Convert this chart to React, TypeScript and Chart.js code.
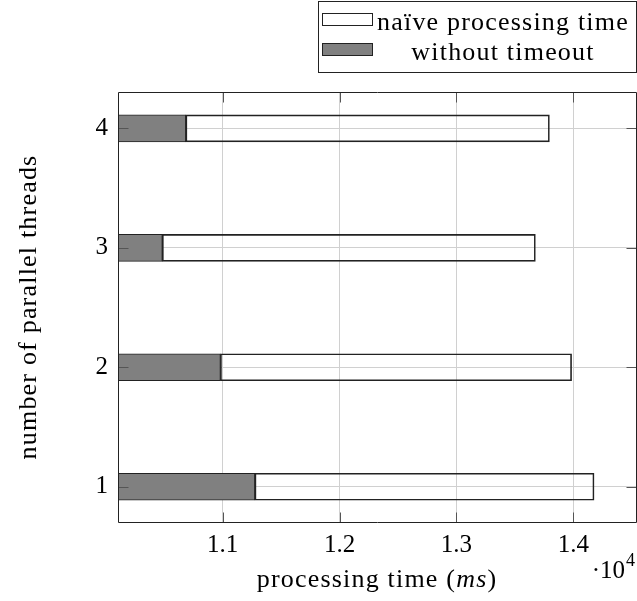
import React, { useEffect, useRef } from "react";
import { Chart, registerables } from "chart.js";

Chart.register(...registerables);

// ---- data ----
const threads = [1, 2, 3, 4];
const naiveTime = [14177, 13985, 13675, 13795];
const withoutTimeout = [11275, 10980, 10483, 10684];
const xTicks = [11000, 12000, 13000, 14000];
const xTickLabels = ["1.1", "1.2", "1.3", "1.4"];
const yTicks = [1, 2, 3, 4];
const seriesLabels = ["naïve processing time", "without timeout"];
const xAxisTitle = ["processing time (", "ms", ")"];
const yAxisTitle = "number of parallel threads";
const xMultiplier = ["·10", "4"];
const X_MIN = 10104;
const X_MAX = 14536;
const Y_MIN = 0.705;
const Y_MAX = 4.304;

const FONT = "'Liberation Serif', 'Times New Roman', serif";
const GRAY = "#808080";
const EDGE = "#222222";

const decorPlugin = {
  id: "decor",
  afterDraw(chart: any) {
    const ctx = chart.ctx as CanvasRenderingContext2D;
    const { left, right, top, bottom } = chart.chartArea;
    const xs = chart.scales.x;
    const ys = chart.scales.y;
    const L = Math.round(left) + 0.5;
    const R = Math.round(right) + 0.5;
    const T = Math.round(top) + 0.5;
    const B = Math.round(bottom) + 0.5;
    ctx.save();
    // inward ticks
    ctx.strokeStyle = "#555";
    ctx.lineWidth = 1;
    ctx.beginPath();
    xTicks.forEach((v) => {
      const px = Math.round(xs.getPixelForValue(v)) + 0.5;
      ctx.moveTo(px, B);
      ctx.lineTo(px, B - 10);
      ctx.moveTo(px, T);
      ctx.lineTo(px, T + 10);
    });
    yTicks.forEach((v) => {
      const py = Math.round(ys.getPixelForValue(v)) + 0.5;
      ctx.moveTo(L, py);
      ctx.lineTo(L + 10, py);
      ctx.moveTo(R, py);
      ctx.lineTo(R - 10, py);
    });
    ctx.stroke();
    // frame
    ctx.strokeStyle = EDGE;
    ctx.beginPath();
    ctx.rect(L, T, R - L, B - T);
    ctx.stroke();

    // axis titles
    ctx.fillStyle = "#000";
    (ctx as any).letterSpacing = "1.2px";
    ctx.textBaseline = "alphabetic";
    const normal = `26px ${FONT}`;
    const italic = `italic 26px ${FONT}`;
    ctx.font = normal;
    const w0 = ctx.measureText(xAxisTitle[0]).width;
    const w2 = ctx.measureText(xAxisTitle[2]).width;
    ctx.font = italic;
    const w1 = ctx.measureText(xAxisTitle[1]).width;
    const total = w0 + w1 + w2;
    let x = 377 - total / 2;
    const by = 587;
    ctx.textAlign = "left";
    ctx.font = normal;
    ctx.fillText(xAxisTitle[0], x, by);
    x += w0;
    ctx.font = italic;
    ctx.fillText(xAxisTitle[1], x, by);
    x += w1;
    ctx.font = normal;
    ctx.fillText(xAxisTitle[2], x, by);

    // y title
    ctx.save();
    (ctx as any).letterSpacing = "1.2px";
    ctx.translate(36, (top + bottom) / 2);
    ctx.rotate(-Math.PI / 2);
    ctx.textAlign = "center";
    ctx.font = normal;
    ctx.fillText(yAxisTitle, 0, 0);
    ctx.restore();

    // multiplier
    (ctx as any).letterSpacing = "0px";
    ctx.textAlign = "left";
    ctx.font = `25px ${FONT}`;
    const wm = ctx.measureText(xMultiplier[0]).width;
    ctx.font = `18px ${FONT}`;
    const ws = ctx.measureText(xMultiplier[1]).width;
    const mx = 635 - ws - 1 - wm;
    ctx.font = `25px ${FONT}`;
    ctx.fillText(xMultiplier[0], mx, 578);
    ctx.font = `18px ${FONT}`;
    ctx.fillText(xMultiplier[1], mx + wm + 1, 566);

    // legend
    ctx.strokeStyle = EDGE;
    ctx.lineWidth = 1;
    ctx.strokeRect(318.5, 1.5, 318, 71);
    const ds = chart.data.datasets;
    const rows = [30, 60];
    const sw = [13, 43];
    ds.forEach((d: any, i: number) => {
      ctx.fillStyle = d.legendFill;
      ctx.fillRect(322.5, sw[i] + 0.5, 50, 12);
      ctx.strokeStyle = EDGE;
      ctx.strokeRect(322.5, sw[i] + 0.5, 50, 12);
    });
    ctx.fillStyle = "#000";
    (ctx as any).letterSpacing = "1.2px";
    ctx.font = normal;
    ctx.textAlign = "center";
    ds.forEach((d: any, i: number) => {
      const tw = ctx.measureText(d.label).width;
      const cx = 373 + (633 - 373) / 2;
      ctx.fillText(d.label, Math.max(cx, 373 + tw / 2), rows[i]);
    });
    ctx.restore();
  },
};

export default function App() {
  const ref = useRef<HTMLCanvasElement | null>(null);
  useEffect(() => {
    if (!ref.current) return;
    const chart = new Chart(ref.current, {
      type: "bar",
      data: {
        datasets: [
          {
            label: seriesLabels[0],
            data: threads.map((t, i) => ({ y: t, x: [withoutTimeout[i], naiveTime[i]] })) as any,
            backgroundColor: "rgba(255,255,255,0)",
            borderColor: EDGE,
            borderWidth: 1,
            borderSkipped: false,
            grouped: false,
            barThickness: 27,
            legendFill: "#ffffff",
          } as any,
          {
            label: seriesLabels[1],
            data: threads.map((t, i) => ({ y: t, x: [X_MIN, withoutTimeout[i]] })) as any,
            backgroundColor: GRAY,
            borderColor: EDGE,
            borderWidth: 1,
            borderSkipped: false,
            grouped: false,
            barThickness: 27,
            legendFill: GRAY,
          } as any,
        ],
      },
      options: {
        indexAxis: "y",
        animation: false,
        responsive: true,
        maintainAspectRatio: false,
        layout: { padding: { top: 92, right: 1, left: 0, bottom: 0 } },
        plugins: {
          legend: { display: false },
          tooltip: { enabled: false },
          title: { display: false },
        },
        scales: {
          x: {
            type: "linear",
            min: X_MIN,
            max: X_MAX,
            offset: false,
            afterBuildTicks: (s: any) => {
              s.ticks = xTicks.map((v) => ({ value: v }));
            },
            afterFit: (s: any) => {
              s.height = 79;
            },
            grid: { color: "#d0d0d0", lineWidth: 1, drawTicks: false, offset: false },
            border: { display: false },
            ticks: {
              padding: 8,
              color: "#000",
              font: { family: FONT, size: 25 },
              callback: (v: any) => xTickLabels[xTicks.indexOf(Number(v))] ?? "",
            },
          },
          y: {
            type: "linear",
            min: Y_MIN,
            max: Y_MAX,
            offset: false,
            afterBuildTicks: (s: any) => {
              s.ticks = yTicks.map((v) => ({ value: v }));
            },
            afterFit: (s: any) => {
              s.width = 118;
            },
            grid: { color: "#d0d0d0", lineWidth: 1, drawTicks: false, offset: false },
            border: { display: false },
            ticks: {
              padding: 10,
              color: "#000",
              font: { family: FONT, size: 25 },
              callback: (v: any) => String(v),
            },
          },
        },
      } as any,
      plugins: [decorPlugin],
    });
    return () => chart.destroy();
  }, []);
  return (
    <div style={{ position: "absolute", left: 0, top: 0, width: 637, height: 601, background: "#fff" }}>
      <canvas ref={ref} />
    </div>
  );
}
